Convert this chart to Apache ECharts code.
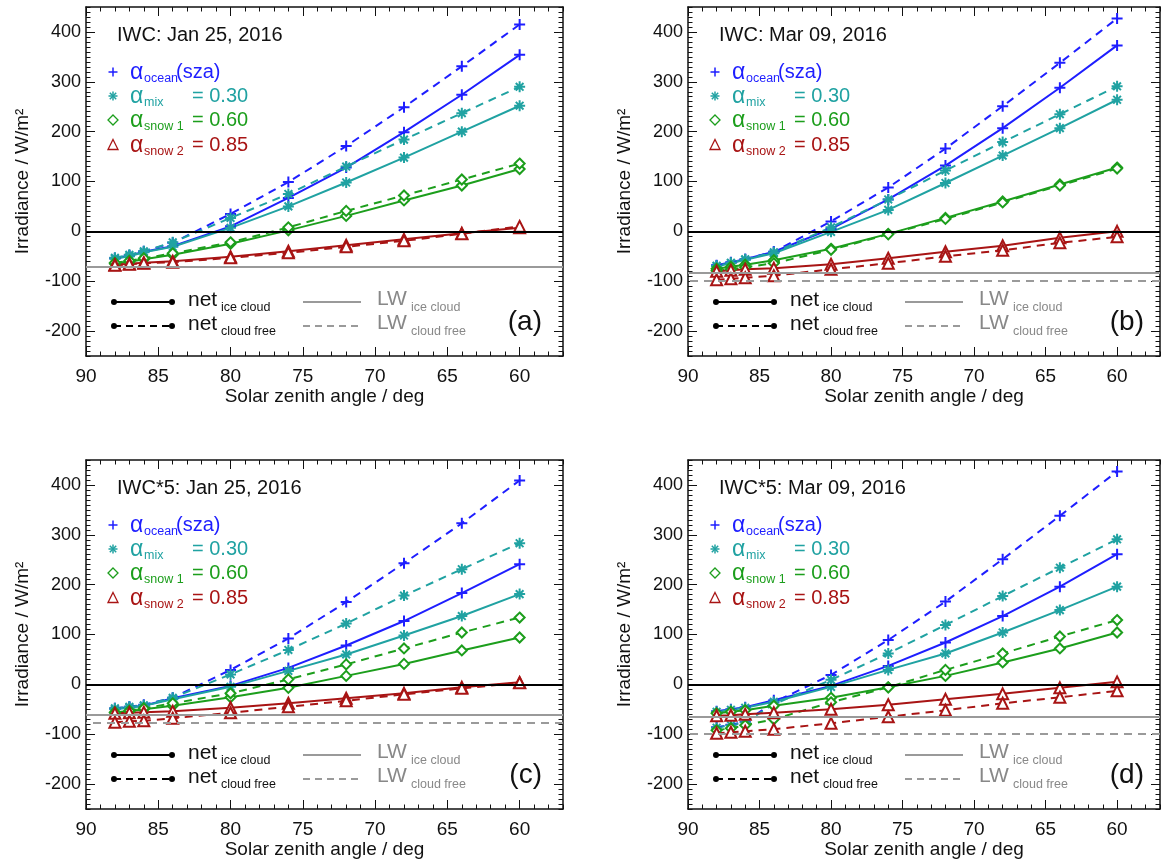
<!DOCTYPE html>
<html><head><meta charset="utf-8">
<script src="https://cdn.jsdelivr.net/npm/echarts@6/dist/echarts.min.js"></script>
<style>html,body{margin:0;padding:0;background:#fff}#c{width:1163px;height:868px}</style>
</head><body><div id="c"></div>
<script>
// ---------------- data ----------------
const sza = [88, 87, 86, 84, 80, 76, 72, 68, 64, 60];
const xTickValues = [90, 85, 80, 75, 70, 65, 60];
const yTickValues = [-200, -100, 0, 100, 200, 300, 400];

// panel (a) IWC: Jan 25, 2016
const oceanIceA  = [-54, -49, -41, -30, 10, 67, 128, 199, 274, 354];
const oceanFreeA = [-54, -48, -40, -23, 35, 99, 171, 249, 331, 415];
const mixIceA    = [-55, -50, -42, -31, 7, 50, 98, 148, 200, 252];
const mixFreeA   = [-53, -47, -40, -22, 27, 75, 130, 184, 237, 290];
const snow1IceA  = [-65, -61, -56, -47, -25, 2, 31, 62, 92, 125];
const snow1FreeA = [-63, -59, -54, -44, -22, 8, 41, 72, 104, 136];
const snow2IceA  = [-67, -65, -63, -60, -51, -40, -28, -16, -4, 7];
const snow2FreeA = [-68, -66, -64, -62, -53, -43, -31, -19, -5, 10];
const lwA = [-70, -71];

// panel (b) IWC: Mar 09, 2016
const oceanIceB  = [-68, -62, -56, -41, 5, 64, 132, 207, 288, 373];
const oceanFreeB = [-69, -63, -56, -41, 20, 88, 166, 251, 338, 427];
const mixIceB    = [-70, -64, -57, -44, -1, 43, 97, 152, 207, 264];
const mixFreeB   = [-69, -63, -56, -42, 8, 64, 122, 179, 235, 291];
const snow1IceB  = [-75, -71, -67, -58, -35, -5, 27, 60, 94, 128];
const snow1FreeB = [-79, -76, -72, -64, -37, -6, 25, 58, 92, 126];
const snow2IceB  = [-80, -78, -76, -74, -66, -54, -41, -29, -13, 0];
const snow2FreeB = [-97, -95, -93, -89, -76, -64, -50, -38, -23, -11];
const lwB = [-83, -99];

// panel (c) IWC*5: Jan 25, 2016
const oceanIceC  = [-49, -46, -43, -28, -3, 33, 78, 127, 183, 241];
const oceanFreeC = [-48, -45, -41, -27, 29, 92, 165, 243, 323, 409];
const mixIceC    = [-50, -47, -43, -30, -5, 27, 60, 98, 137, 181];
const mixFreeC   = [-48, -45, -42, -27, 20, 69, 122, 178, 231, 283];
const snow1IceC  = [-56, -54, -50, -43, -26, -7, 17, 41, 68, 94];
const snow1FreeC = [-57, -53, -48, -38, -18, 10, 40, 72, 104, 134];
const snow2IceC  = [-58, -57, -56, -54, -47, -38, -28, -18, -6, 4];
const snow2FreeC = [-76, -74, -73, -68, -57, -45, -33, -20, -8, 3];
const lwC = [-60, -77];

// panel (d) IWC*5: Mar 09, 2016
const oceanIceD  = [-54, -50, -46, -32, -3, 37, 84, 137, 196, 261];
const oceanFreeD = [-86, -81, -75, -36, 19, 89, 166, 251, 338, 427];
const mixIceD    = [-55, -51, -47, -35, -5, 29, 62, 104, 149, 196];
const mixFreeD   = [-87, -82, -76, -40, 9, 62, 119, 177, 234, 291];
const snow1IceD  = [-58, -55, -52, -43, -27, -6, 17, 44, 72, 104];
const snow1FreeD = [-92, -88, -82, -70, -36, -6, 29, 62, 96, 129];
const snow2IceD  = [-63, -62, -60, -57, -50, -41, -30, -19, -7, 5];
const snow2FreeD = [-98, -96, -94, -90, -78, -65, -52, -38, -26, -13];
const lwD = [-64, -100];

const titles = ['IWC: Jan 25, 2016', 'IWC: Mar 09, 2016', 'IWC*5: Jan 25, 2016', 'IWC*5: Mar 09, 2016'];
const letters = ['(a)', '(b)', '(c)', '(d)'];
const albedoSubs = ['ocean', 'mix', 'snow 1', 'snow 2'];
const albedoValues = ['(sza)', '= 0.30', '= 0.60', '= 0.85'];
const netSubs = ['ice cloud', 'cloud free'];

// ---------------- styling / layout ----------------
const FONT = '"Liberation Sans", Arial, Helvetica, sans-serif';
const COLORS = ['#1e1eff', '#20a2a2', '#1c9e1c', '#a81414'];
const GRAY = '#9a9a9a';
const GRIDS = [{left: 86, top: 7}, {left: 688, top: 7}, {left: 86, top: 460}, {left: 688, top: 460}];
const GW = 477, GH = 349;
const XMIN = 57, XMAX = 90, YMIN = -250, YMAX = 450;

const PLUS = 'path://M0,5L10,5M5,0L5,10';
const STAR = 'path://M0,5L10,5M5,0L5,10M1.5,1.5L8.5,8.5M8.5,1.5L1.5,8.5';
const SYMBOLS = [PLUS, STAR, 'emptyDiamond', 'emptyTriangle'];
const SIZES = [11, 11, 10, 11];

const panels = [
  {sets: [[oceanIceA, oceanFreeA], [mixIceA, mixFreeA], [snow1IceA, snow1FreeA], [snow2IceA, snow2FreeA]], lw: lwA},
  {sets: [[oceanIceB, oceanFreeB], [mixIceB, mixFreeB], [snow1IceB, snow1FreeB], [snow2IceB, snow2FreeB]], lw: lwB},
  {sets: [[oceanIceC, oceanFreeC], [mixIceC, mixFreeC], [snow1IceC, snow1FreeC], [snow2IceC, snow2FreeC]], lw: lwC},
  {sets: [[oceanIceD, oceanFreeD], [mixIceD, mixFreeD], [snow1IceD, snow1FreeD], [snow2IceD, snow2FreeD]], lw: lwD}
];

const grid = GRIDS.map(g => ({left: g.left, top: g.top, width: GW, height: GH}));
const xAxis = [], yAxis = [], series = [], elements = [];

function xAx(pi, pos, major, main) {
  return {
    type: 'value', gridIndex: pi, min: XMIN, max: XMAX, interval: 1, inverse: true, position: pos,
    axisLine: {show: !major, onZero: false, lineStyle: {color: '#111', width: 1.5}},
    axisTick: Object.assign({show: true, inside: true, length: major ? 9 : 4.5, lineStyle: {color: '#111', width: 1}},
      major ? {customValues: xTickValues} : {}),
    axisLabel: main ? {show: true, margin: 11, fontSize: 19, color: '#111', fontFamily: FONT,
      formatter: v => { const r = Math.round(v); return xTickValues.indexOf(r) >= 0 ? String(r) : ''; }} : {show: false},
    splitLine: {show: false},
    name: main ? 'Solar zenith angle / deg' : '', nameLocation: 'middle', nameGap: 31,
    nameTextStyle: {fontSize: 19, color: '#111', fontFamily: FONT}
  };
}
function yAx(pi, pos, major, main) {
  return {
    type: 'value', gridIndex: pi, min: YMIN, max: YMAX, interval: 10, position: pos,
    axisLine: {show: !major, onZero: false, lineStyle: {color: '#111', width: 1.5}},
    axisTick: Object.assign({show: true, inside: true, length: major ? 9 : 4.5, lineStyle: {color: '#111', width: 1}},
      major ? {customValues: yTickValues} : {}),
    axisLabel: main ? {show: true, margin: 5, fontSize: 18, color: '#111', fontFamily: FONT,
      formatter: v => { const r = Math.round(v); return yTickValues.indexOf(r) >= 0 ? String(r) : ''; }} : {show: false},
    splitLine: {show: false},
    name: main ? 'Irradiance / W/m²' : '', nameLocation: 'middle', nameGap: 54,
    nameTextStyle: {fontSize: 19, color: '#111', fontFamily: FONT}
  };
}

function txt(x, y, text, size, color, align) {
  return {type: 'text', x: x, y: y, silent: true,
    style: {text: text, fill: color, fontSize: size, fontFamily: FONT, align: align || 'left', verticalAlign: 'middle'}};
}
function ln(x1, y1, x2, y2, color, w, dash) {
  return {type: 'line', silent: true, shape: {x1, y1, x2, y2},
    style: {stroke: color, lineWidth: w, lineDash: dash || null}};
}
function legendMarker(k, cx, cy, c) {
  const r = 4.5, out = [];
  if (k === 0) { out.push(ln(cx - r, cy, cx + r, cy, c, 1.5), ln(cx, cy - r, cx, cy + r, c, 1.5)); }
  else if (k === 1) {
    out.push(ln(cx - r, cy, cx + r, cy, c, 1.5), ln(cx, cy - r, cx, cy + r, c, 1.5),
      ln(cx - 3.2, cy - 3.2, cx + 3.2, cy + 3.2, c, 1.5), ln(cx + 3.2, cy - 3.2, cx - 3.2, cy + 3.2, c, 1.5));
  } else if (k === 2) {
    out.push({type: 'polygon', silent: true, shape: {points: [[cx, cy - r - 0.5], [cx + r + 0.5, cy], [cx, cy + r + 0.5], [cx - r - 0.5, cy]]},
      style: {fill: 'none', stroke: c, lineWidth: 1.3}});
  } else {
    out.push({type: 'polygon', silent: true, shape: {points: [[cx, cy - r - 1], [cx + r + 0.5, cy + r], [cx - r - 0.5, cy + r]]},
      style: {fill: 'none', stroke: c, lineWidth: 1.3}});
  }
  return out;
}

panels.forEach((p, pi) => {
  xAxis.push(xAx(pi, 'bottom', false, true), xAx(pi, 'bottom', true, false), xAx(pi, 'top', false, false), xAx(pi, 'top', true, false));
  yAxis.push(yAx(pi, 'left', false, true), yAx(pi, 'left', true, false), yAx(pi, 'right', false, false), yAx(pi, 'right', true, false));

  // reference lines: zero, LW ice cloud, LW cloud free
  series.push({
    type: 'line', xAxisIndex: pi * 4, yAxisIndex: pi * 4, data: [], silent: true,
    markLine: {silent: true, symbol: ['none', 'none'], label: {show: false}, animation: false,
      emphasis: {disabled: true},
      data: [
        {yAxis: 0, lineStyle: {color: '#000', width: 2, type: 'solid'}},
        {yAxis: p.lw[0], lineStyle: {color: GRAY, width: 2, type: 'solid'}},
        {yAxis: p.lw[1], lineStyle: {color: GRAY, width: 2, type: [8, 6]}}
      ]}
  });

  p.sets.forEach((pair, k) => {
    pair.forEach((vals, j) => {
      series.push({
        type: 'line', xAxisIndex: pi * 4, yAxisIndex: pi * 4,
        data: sza.map((x, i) => [x, vals[i]]),
        symbol: SYMBOLS[k], symbolSize: SIZES[k], showSymbol: true, silent: true,
        lineStyle: {color: COLORS[k], width: 2, type: j === 0 ? 'solid' : [8, 6]},
        itemStyle: {color: COLORS[k], borderColor: COLORS[k], borderWidth: 2},
        emphasis: {disabled: true}, z: 3
      });
    });
  });

  const L = GRIDS[pi].left, T = GRIDS[pi].top;
  elements.push(txt(L + 31, T + 28, titles[pi], 20, '#111'));
  const rowY = [65, 89, 113, 138];
  for (let k = 0; k < 4; k++) {
    const y = T + rowY[k], c = COLORS[k];
    elements.push(...legendMarker(k, L + 27, y, c));
    elements.push(txt(L + 44, y + 1, 'α', 23, c));
    elements.push(txt(L + 58, y + 7, albedoSubs[k], 12.5, c));
    elements.push(txt(L + (k === 0 ? 90 : 106), y, albedoValues[k], 20, c));
  }
  // bottom legend
  const by = [T + 295, T + 319];
  for (let j = 0; j < 2; j++) {
    const y = by[j], dash = j === 0 ? null : [7, 5];
    elements.push(ln(L + 28, y, L + 86, y, '#000', 2, dash));
    elements.push({type: 'circle', silent: true, shape: {cx: L + 28, cy: y, r: 3}, style: {fill: '#000'}});
    elements.push({type: 'circle', silent: true, shape: {cx: L + 86, cy: y, r: 3}, style: {fill: '#000'}});
    elements.push(txt(L + 102, y - 2, 'net', 21, '#111'));
    elements.push(txt(L + 135, y + 6, netSubs[j], 12.5, '#111'));
    elements.push(ln(L + 217, y, L + 275, y, GRAY, 1.8, dash));
    elements.push(txt(L + 291, y - 3, 'LW', 21, '#888'));
    elements.push(txt(L + 325, y + 6, netSubs[j], 12.5, '#888'));
  }
  elements.push(txt(L + GW - 21, T + 315, letters[pi], 28, '#111', 'right'));
});

const chart = echarts.init(document.getElementById('c'), null, {renderer: 'canvas'});
chart.setOption({
  animation: false,
  backgroundColor: '#fff',
  grid: grid,
  xAxis: xAxis,
  yAxis: yAxis,
  series: series,
  graphic: {elements: elements}
});
</script>
</body></html>
